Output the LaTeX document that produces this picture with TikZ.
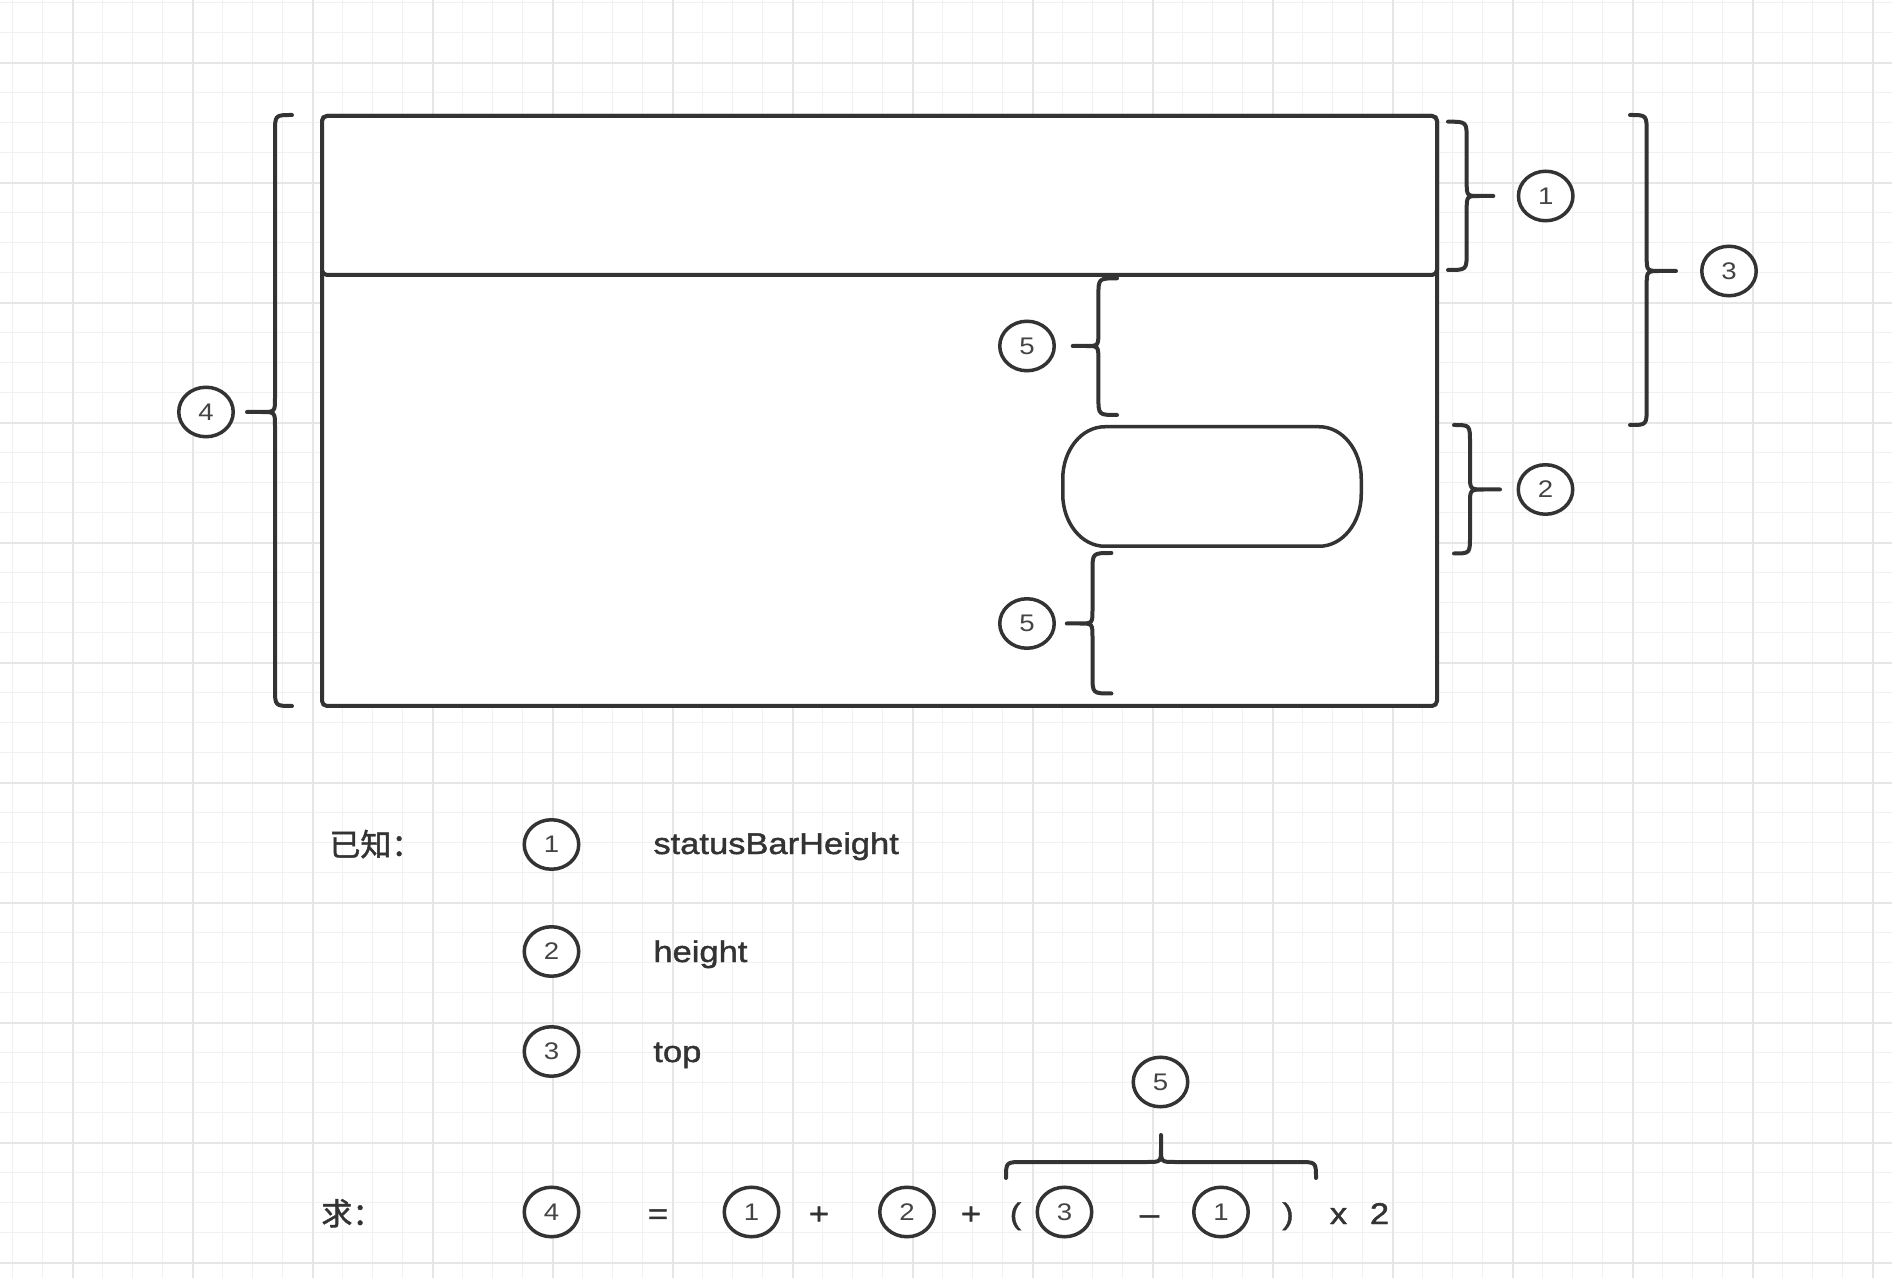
\documentclass[tikz,border=0pt]{standalone}
\usepackage{fontspec}
\newfontfamily\latf{Liberation Sans}[FakeStretch=1.15]
\newfontfamily\latb{Liberation Sans}[FakeStretch=1.15,FakeBold=1.4]
\newfontfamily\cjkf{Noto Sans CJK SC}[FakeBold=1.4]
\usetikzlibrary{shapes.geometric}
\definecolor{ink}{HTML}{333333}
\definecolor{gridminor}{HTML}{F1F1F1}
\definecolor{gridmajor}{HTML}{E6E6E6}
\definecolor{digit}{HTML}{444444}
\tikzset{
  num/.style={ellipse, draw=ink, line width=1.75pt, minimum width=27.25pt, minimum height=24.75pt, inner sep=0pt, fill=white, text=digit, font=\latf\fontsize{12}{12}\selectfont},
  brc/.style={draw=ink, line width=2pt, line join=round, line cap=round},
  lbl/.style={font=\latb\fontsize{15}{18}\selectfont, text=ink, inner sep=0pt, anchor=base west},
  op/.style={font=\latb\fontsize{15}{18}\selectfont, text=ink, inner sep=0pt, anchor=base},
  zh/.style={font=\cjkf\fontsize{15.5}{18}\selectfont, text=ink, inner sep=0pt, anchor=base west},
  panel/.style={draw=ink, line width=2pt, fill=white, rounded corners=2.5pt},
  pill/.style={draw=ink, line width=1.75pt, fill=white, line join=round},
  gmin/.style={draw=gridminor, line width=0.75pt},
  gmaj/.style={draw=gridmajor, line width=1pt},
}
% vertical brace: #1 tip x, #2 spine x, #3 end x, #4 top y, #5 middle y, #6 bottom y
\newcommand{\vbrace}[6]{%
  \pgfmathsetmacro{\tq}{#2+(#1-#2)*0.5}%
  \draw[brc] (#3,#4) .. controls (#2,#4) .. (#2,#4+18) -- (#2,#5-14)
     .. controls (#2,#5) .. (\tq,#5) -- (#1,#5) -- (\tq,#5)
     .. controls (#2,#5) .. (#2,#5+14) -- (#2,#6-18) .. controls (#2,#6) .. (#3,#6);
}
\begin{document}
\begin{tikzpicture}[x=0.5pt,y=-0.5pt]
\useasboundingbox (0,0) rectangle (1892,1278);
\fill[white] (0,0) rectangle (1892,1278);
% grid
\foreach \i in {0,...,62} { \draw[gmin] ({12.7+30*\i},0) -- ({12.7+30*\i},1278); }
\foreach \j in {0,...,42} { \draw[gmin] (0,{2.7+30*\j}) -- (1892,{2.7+30*\j}); }
\foreach \i in {0,...,15} { \draw[gmaj] ({72.7+120*\i},0) -- ({72.7+120*\i},1278); }
\foreach \j in {0,...,10} { \draw[gmaj] (0,{62.7+120*\j}) -- (1892,{62.7+120*\j}); }

% screen
\draw[panel] (322,116) rectangle (1437,706);
\draw[panel] (322,116) rectangle (1437,275);
% capsule (elliptic corners rx=42, ry=52)
\draw[pill] (1104.75,426.75) -- (1319.25,426.75)
  .. controls (1342.4,426.75) and (1361.25,450.1) .. (1361.25,478.75)
  -- (1361.25,494.25)
  .. controls (1361.25,522.9) and (1342.4,546.25) .. (1319.25,546.25)
  -- (1104.75,546.25)
  .. controls (1081.6,546.25) and (1062.75,522.9) .. (1062.75,494.25)
  -- (1062.75,478.75)
  .. controls (1062.75,450.1) and (1081.6,426.75) .. (1104.75,426.75) -- cycle;

% braces
\vbrace{247}{275}{292}{115}{412}{706}
\vbrace{1493.3}{1466.7}{1448}{121.7}{196}{270}
\vbrace{1676}{1646.7}{1630}{115}{271}{425}
\vbrace{1500}{1470}{1454}{425}{489.5}{553.5}
\vbrace{1072.7}{1098.4}{1117}{278.3}{346}{415}
\vbrace{1066.8}{1092.5}{1111.4}{553}{623.5}{693.5}
\draw[brc] (1006,1178) .. controls (1006,1162) .. (1024,1162) -- (1147,1162)
  .. controls (1161,1162) .. (1161,1148) -- (1161,1135) -- (1161,1148)
  .. controls (1161,1162) .. (1175,1162) -- (1298,1162) .. controls (1316,1162) .. (1316,1178);

% numbered markers around the screen
\node[num] (n4l) at (206,412) {4};
\node[num] (n1r) at (1545.7,196) {1};
\node[num] (n3r) at (1729,271) {3};
\node[num] (n2r) at (1545.5,489.5) {2};
\node[num] (n5a) at (1027,346) {5};
\node[num] (n5b) at (1027,623.5) {5};

% legend
\node[zh] (known) at (329,856) {已知：};
\node[num] (k1) at (551.5,844.5) {1};
\node[lbl] (t1) at (653,854) {statusBarHeight};
\node[num] (k2) at (551.5,951.5) {2};
\node[lbl] (t2) at (653,962) {height};
\node[num] (k3) at (551.5,1051.5) {3};
\node[lbl] (t3) at (653,1062) {top};

% formula
\node[zh] (ask) at (321,1225) {求：};
\node[num] (f4) at (551.5,1212) {4};
\node[op] (eq) at (658,1224) {=};
\node[num] (f1) at (751.5,1212) {1};
\node[op] (p1) at (819,1224) {+};
\node[num] (f2) at (907,1212) {2};
\node[op] (p2) at (971,1224) {+};
\node[op] (lp) at (1015.5,1224) {(};
\node[num] (f3) at (1064.5,1212) {3};
\node[op] (mn) at (1149.5,1224) {–};
\node[num] (f1b) at (1221,1212) {1};
\node[op] (rp) at (1288,1224) {)};
\node[op] (tm) at (1338.5,1224) {x};
\node[op] (two) at (1379.5,1224) {2};
\node[num] (f5) at (1160.5,1082) {5};
\end{tikzpicture}
\end{document}
